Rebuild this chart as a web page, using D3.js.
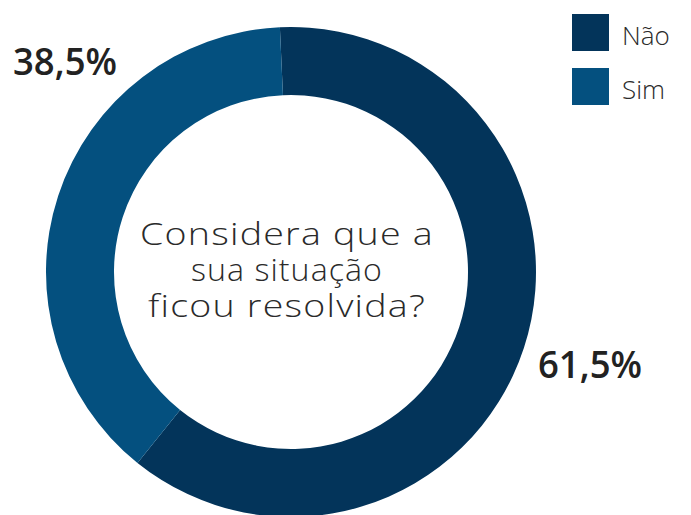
<!DOCTYPE html>
<html>
<head>
<meta charset="utf-8">
<script src="https://cdn.jsdelivr.net/npm/d3@7"></script>
<style>
  html, body { margin: 0; padding: 0; background: #ffffff; }
  svg { display: block; }
</style>
</head>
<body>
<svg id="chart" width="691" height="515"></svg>
<script>
// Survey answers: "Considera que a sua situação ficou resolvida?"
const categories = ["Não", "Sim"];
const values = [61.5, 38.5];
const valueLabels = ["61,5%", "38,5%"];
const colors = ["#03345a", "#04507f"];
const questionLines = ["Considera que a", "sua situação", "ficou resolvida?"];

const svg = d3.select("#chart");

const cx = 291, cy = 272;
const outerR = 245, innerR = 177;

const data = categories.map((c, i) => ({ category: c, value: values[i], label: valueLabels[i] }));

const color = d3.scaleOrdinal().domain(categories).range(colors);

// Não starts just left of twelve o'clock and runs clockwise
const startAngle = -2.6 * Math.PI / 180;
const pie = d3.pie()
  .value(d => d.value)
  .sort(null)
  .startAngle(startAngle)
  .endAngle(startAngle + 2 * Math.PI);

const arc = d3.arc().innerRadius(innerR).outerRadius(outerR);

const g = svg.append("g").attr("transform", `translate(${cx},${cy})`);

g.selectAll("path.slice")
  .data(pie(data))
  .join("path")
  .attr("class", "slice")
  .attr("d", arc)
  .attr("fill", d => color(d.data.category));

// Question in the middle of the ring, one text block with a line per tspan;
// glyphs are widened a little to give the rounded, open look of the title face
const lineWidths = [294, 192, 278];
const question = g.append("text")
  .attr("class", "question")
  .attr("text-anchor", "middle")
  .attr("font-family", "'Open Sans', sans-serif")
  .attr("font-weight", 300)
  .attr("font-size", 31)
  .attr("letter-spacing", 1)
  .attr("fill", "#2a2a2a");

question.selectAll("tspan")
  .data(questionLines)
  .join("tspan")
  .attr("x", -4)
  .attr("y", (d, i) => -27 + i * 36)
  .attr("textLength", (d, i) => lineWidths[i])
  .attr("lengthAdjust", "spacingAndGlyphs")
  .text(d => d);

// Percentage labels outside the ring
const labelPos = { "Não": { x: 538, y: 378 }, "Sim": { x: 13, y: 75 } };
svg.selectAll("text.value")
  .data(data)
  .join("text")
  .attr("class", "value")
  .attr("x", d => labelPos[d.category].x)
  .attr("y", d => labelPos[d.category].y)
  .attr("font-family", "'Open Sans', sans-serif")
  .attr("font-weight", 600)
  .attr("font-size", 38)
  .attr("fill", "#222222")
  .attr("textLength", 104)
  .attr("lengthAdjust", "spacingAndGlyphs")
  .text(d => d.label);

// Legend
const legend = svg.append("g").attr("transform", "translate(572,14)");
const items = legend.selectAll("g.item")
  .data(categories)
  .join("g")
  .attr("class", "item")
  .attr("transform", (d, i) => `translate(0,${i * 54})`);

items.append("rect")
  .attr("width", 37)
  .attr("height", 37)
  .attr("fill", d => color(d));

items.append("text")
  .attr("x", 50)
  .attr("y", 31)
  .attr("font-family", "'Open Sans', sans-serif")
  .attr("font-weight", 300)
  .attr("font-size", 26)
  .attr("fill", "#2a2a2a")
  .text(d => d);
</script>
</body>
</html>
